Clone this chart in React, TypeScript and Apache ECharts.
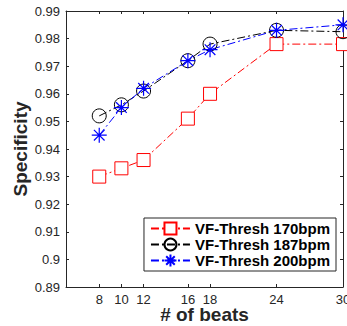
import React, { useEffect, useRef } from "react";
import * as echarts from "echarts";

const beats = [8, 10, 12, 16, 18, 24, 30];
const thresh170 = [0.93, 0.933, 0.936, 0.951, 0.96, 0.978, 0.978];
const thresh187 = [0.952, 0.956, 0.961, 0.972, 0.978, 0.983, 0.9825];
const thresh200 = [0.945, 0.955, 0.962, 0.972, 0.976, 0.983, 0.985];
const seriesNames = ["VF-Thresh 170bpm", "VF-Thresh 187bpm", "VF-Thresh 200bpm"];
const xTicks = [8, 10, 12, 16, 18, 24, 30];

const AXIS = "#262626";
const DASHDOT = [8, 3, 2, 3];
const STAR = "path://M10,0 L10,20 M0,10 L20,10 M2.9,2.9 L17.1,17.1 M2.9,17.1 L17.1,2.9";
const FONT = "Liberation Sans, Arial, Helvetica, sans-serif";

export default function App() {
  const ref = useRef<HTMLDivElement>(null);
  useEffect(() => {
    if (!ref.current) return;
    const chart = echarts.init(ref.current, undefined, { renderer: "svg" });
    const pts = (vals: number[]) => beats.map((b, i) => [b, vals[i]]);
    const baseX = {
      type: "value" as const,
      min: 5,
      max: 30,
      axisLine: { show: true, lineStyle: { color: AXIS, width: 1 } },
      axisTick: { inside: true, length: 3, customValues: xTicks, lineStyle: { color: AXIS } },
      splitLine: { show: false },
    };
    const baseY = {
      type: "value" as const,
      min: 0.89,
      max: 0.99,
      interval: 0.01,
      axisLine: { show: true, lineStyle: { color: AXIS, width: 1 } },
      axisTick: { inside: true, length: 3, lineStyle: { color: AXIS } },
      splitLine: { show: false },
    };
    chart.setOption({
      animation: false,
      backgroundColor: "#ffffff",
      grid: { left: 66, top: 11, right: 4, bottom: 39, outerBoundsMode: "none", containLabel: false },
      xAxis: [
        {
          ...baseX,
          position: "bottom",
          name: "# of beats",
          nameLocation: "middle",
          nameGap: 18,
          nameMoveOverlap: false,
          nameTextStyle: { fontSize: 19, fontWeight: "bold", color: AXIS, fontFamily: FONT },
          axisLabel: {
            customValues: xTicks,
            color: AXIS,
            fontSize: 13,
            margin: 6,
            fontFamily: FONT,
            hideOverlap: false,
          },
        },
        { ...baseX, position: "top", axisLabel: { show: false } },
      ],
      yAxis: [
        {
          ...baseY,
          position: "left",
          name: "Specificity",
          nameLocation: "middle",
          nameGap: 36,
          nameMoveOverlap: false,
          nameTextStyle: { fontSize: 19, fontWeight: "bold", color: AXIS, fontFamily: FONT },
          axisLabel: {
            color: AXIS,
            fontSize: 13,
            margin: 6,
            fontFamily: FONT,
            formatter: (v: number) => String(parseFloat(v.toFixed(2))),
          },
        },
        { ...baseY, position: "right", axisLabel: { show: false } },
      ],
      legend: {
        orient: "vertical",
        right: 11,
        bottom: 55,
        backgroundColor: "#ffffff",
        borderColor: AXIS,
        borderWidth: 1,
        borderRadius: 0,
        padding: [3, 6, 3, 6],
        itemGap: 1,
        itemWidth: 39,
        itemHeight: 15,
        textStyle: { fontSize: 15, fontWeight: "bold", color: "#000", fontFamily: FONT },
        data: seriesNames,
      },
      series: [
        {
          name: seriesNames[0],
          type: "line",
          data: pts(thresh170),
          symbol: "rect",
          symbolSize: 13,
          color: "#ff0000",
          itemStyle: { color: "#ffffff", borderColor: "#ff0000", borderWidth: 1 },
          lineStyle: { color: "#ff0000", width: 1, type: DASHDOT },
        },
        {
          name: seriesNames[1],
          type: "line",
          data: pts(thresh187),
          symbol: "circle",
          symbolSize: 14,
          color: "#000000",
          itemStyle: { color: "rgba(0,0,0,0)", borderColor: "#000000", borderWidth: 1 },
          lineStyle: { color: "#000000", width: 1, type: DASHDOT },
        },
        {
          name: seriesNames[2],
          type: "line",
          data: pts(thresh200),
          symbol: STAR,
          symbolSize: 15,
          color: "#0000ff",
          itemStyle: { color: "rgba(0,0,0,0)", borderColor: "#0000ff", borderWidth: 1.2 },
          lineStyle: { color: "#0000ff", width: 1, type: DASHDOT },
        },
      ],
    });
    return () => chart.dispose();
  }, []);
  return <div ref={ref} style={{ position: "fixed", left: 0, top: 0, width: 347, height: 326, background: "#fff" }} />;
}
